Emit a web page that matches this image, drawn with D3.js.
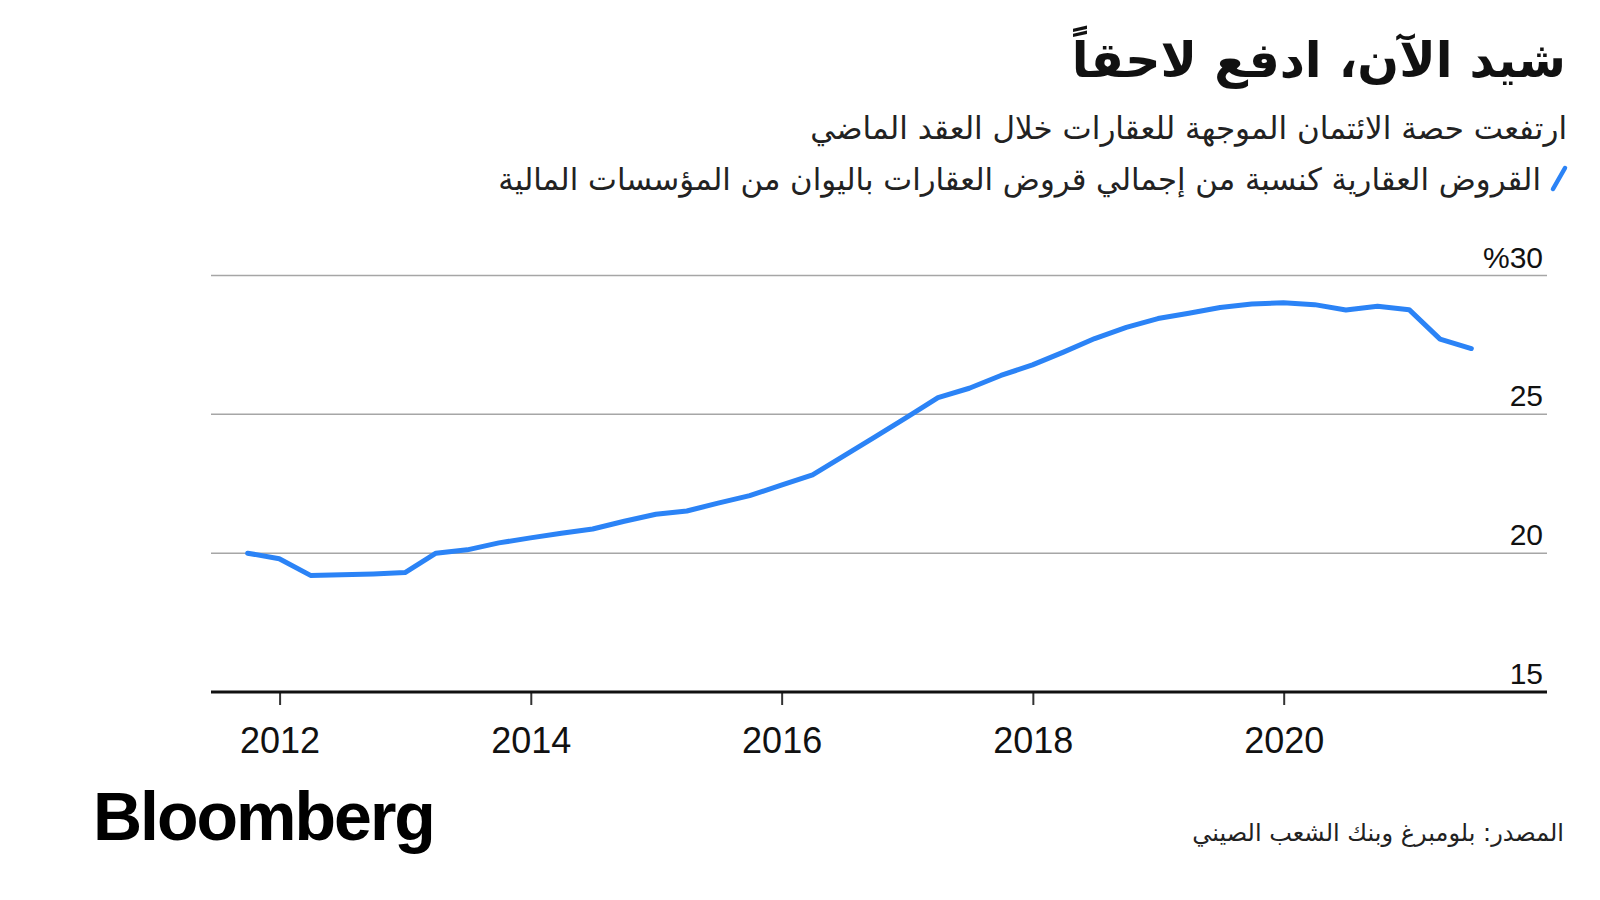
<!DOCTYPE html>
<html>
<head>
<meta charset="utf-8">
<script src="https://cdn.jsdelivr.net/npm/d3@7"></script>
<style>
  html, body { margin: 0; padding: 0; background: #ffffff; }
  svg { display: block; }
</style>
</head>
<body>
<svg id="chart" width="1600" height="900"></svg>
<script>
// ---- data (quarter-end dates, % share) ----
const quarters = [
  "2011-09-30","2011-12-31","2012-03-31","2012-06-30","2012-09-30","2012-12-31",
  "2013-03-31","2013-06-30","2013-09-30","2013-12-31","2014-03-31","2014-06-30",
  "2014-09-30","2014-12-31","2015-03-31","2015-06-30","2015-09-30","2015-12-31",
  "2016-03-31","2016-06-30","2016-09-30","2016-12-31","2017-03-31","2017-06-30",
  "2017-09-30","2017-12-31","2018-03-31","2018-06-30","2018-09-30","2018-12-31",
  "2019-03-31","2019-06-30","2019-09-30","2019-12-31","2020-03-31","2020-06-30",
  "2020-09-30","2020-12-31","2021-03-31","2021-06-30"
];
const shareValues = [
  20.0, 19.80, 19.20, 19.22, 19.25, 19.30,
  20.0, 20.12, 20.37, 20.55, 20.72, 20.87,
  21.15, 21.40, 21.52, 21.80, 22.07, 22.45,
  22.82, 23.50, 24.20, 24.90, 25.60, 25.94,
  26.40, 26.78, 27.24, 27.73, 28.13, 28.45,
  28.64, 28.85, 28.97, 29.02, 28.95, 28.76,
  28.89, 28.77, 27.71, 27.37
];
const yTicks = [15, 20, 25, 30];
const yTickLabels = ["15", "20", "25", "%30"];
const xTickYears = [2012, 2014, 2016, 2018, 2020];

const titleText = "شيد الآن، ادفع لاحقاً";
const subtitleText = "ارتفعت حصة الائتمان الموجهة للعقارات خلال العقد الماضي";
const legendText = "القروض العقارية كنسبة من إجمالي قروض العقارات باليوان من المؤسسات المالية";
const sourceText = "المصدر: بلومبرغ وبنك الشعب الصيني";

// ---- layout ----
const svg = d3.select("#chart");
const plotLeft = 211, plotRight = 1547;
const parse = d3.timeParse("%Y-%m-%d");
const data = quarters.map((q, i) => ({ date: parse(q), value: shareValues[i] }));

const x = d3.scaleTime()
  .domain([new Date(2012, 0, 1), new Date(2020, 0, 1)])
  .range([279.6, 1283.7]);
const y = d3.scaleLinear().domain([15, 30]).range([692, 275.5]);

const arabicFont = "'DejaVu Sans', 'Noto Sans', sans-serif";
const latinFont = "'Liberation Sans', Arial, sans-serif";

// gridlines
svg.append("g").selectAll("line")
  .data(yTicks.filter(d => d !== 15))
  .join("line")
  .attr("x1", plotLeft).attr("x2", plotRight)
  .attr("y1", d => y(d)).attr("y2", d => y(d))
  .attr("stroke", "#a6a6a6").attr("stroke-width", 1.5);

// y labels
svg.append("g").selectAll("text")
  .data(yTicks)
  .join("text")
  .attr("x", 1543)
  .attr("y", d => y(d) - 8)
  .attr("text-anchor", "end")
  .attr("font-family", latinFont)
  .attr("font-size", 30)
  .attr("fill", "#111")
  .text((d, i) => yTickLabels[i]);

// x axis
const xAxis = d3.axisBottom(x)
  .tickValues(xTickYears.map(yr => new Date(yr, 0, 1)))
  .tickFormat(d3.timeFormat("%Y"))
  .tickSize(13)
  .tickPadding(22);
const gx = svg.append("g").attr("transform", `translate(0,${y(15)})`).call(xAxis);
gx.select(".domain").remove();
gx.selectAll(".tick line").attr("stroke", "#333").attr("stroke-width", 2);
gx.selectAll(".tick text")
  .attr("font-family", latinFont)
  .attr("font-size", 36)
  .attr("fill", "#111");
svg.append("line")
  .attr("x1", plotLeft).attr("x2", plotRight)
  .attr("y1", y(15)).attr("y2", y(15))
  .attr("stroke", "#111").attr("stroke-width", 3);

// line
const line = d3.line().x(d => x(d.date)).y(d => y(d.value));
svg.append("path")
  .datum(data)
  .attr("d", line)
  .attr("fill", "none")
  .attr("stroke", "#2b83f6")
  .attr("stroke-width", 5)
  .attr("stroke-linejoin", "round")
  .attr("stroke-linecap", "round");

// title & texts
svg.append("text")
  .attr("x", 1566).attr("y", 77)
  .attr("direction", "rtl").attr("text-anchor", "start")
  .attr("font-family", arabicFont)
  .attr("font-weight", "bold")
  .attr("font-size", 49)
  .attr("fill", "#111")
  .text(titleText);

svg.append("text")
  .attr("x", 1567).attr("y", 139)
  .attr("direction", "rtl").attr("text-anchor", "start")
  .attr("font-family", arabicFont)
  .attr("font-size", 31)
  .attr("fill", "#222")
  .text(subtitleText);

svg.append("line")
  .attr("x1", 1553).attr("y1", 189)
  .attr("x2", 1565).attr("y2", 168)
  .attr("stroke", "#2b83f6").attr("stroke-width", 4.5)
  .attr("stroke-linecap", "round");

svg.append("text")
  .attr("x", 1541).attr("y", 190)
  .attr("direction", "rtl").attr("text-anchor", "start")
  .attr("font-family", arabicFont)
  .attr("font-size", 30.7)
  .attr("fill", "#222")
  .text(legendText);

svg.append("text")
  .attr("x", 1564).attr("y", 841)
  .attr("direction", "rtl").attr("text-anchor", "start")
  .attr("font-family", arabicFont)
  .attr("font-size", 24)
  .attr("fill", "#222")
  .text(sourceText);

svg.append("text")
  .attr("x", 93).attr("y", 840)
  .attr("font-family", latinFont)
  .attr("font-weight", "bold")
  .attr("font-size", 68)
  .attr("letter-spacing", -2)
  .attr("fill", "#000")
  .text("Bloomberg");
</script>
</body>
</html>
